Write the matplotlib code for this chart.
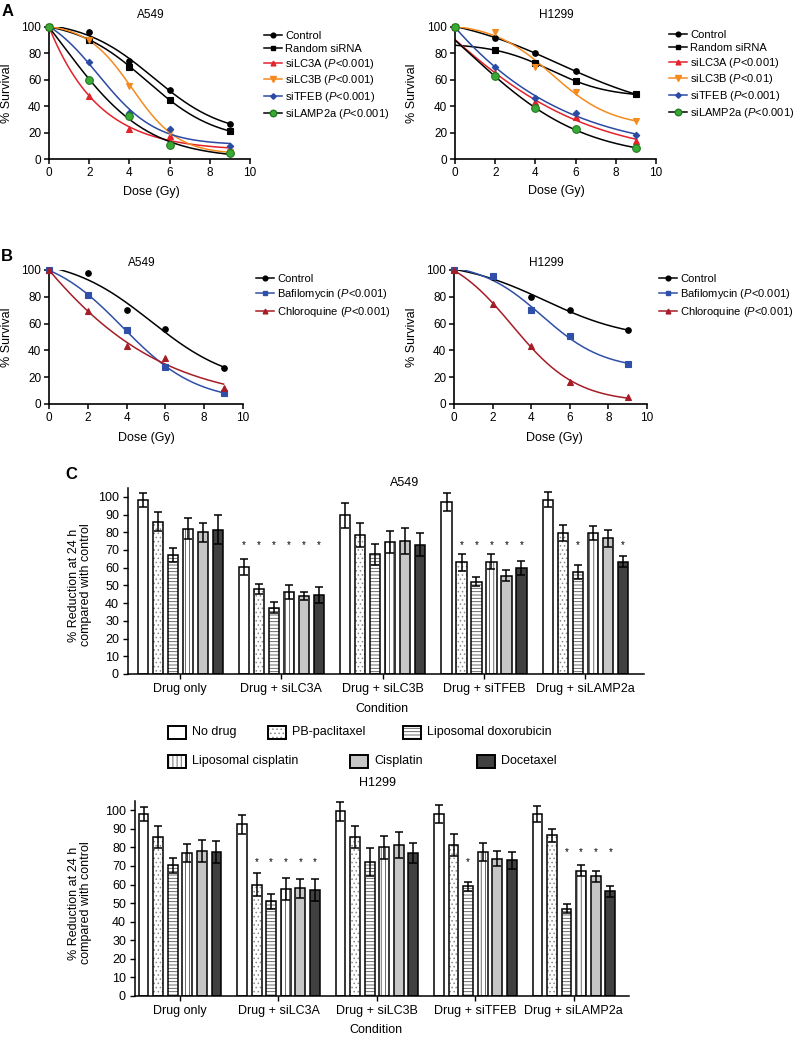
import numpy as np
import matplotlib
matplotlib.use("Agg")
import matplotlib.pyplot as plt
from matplotlib.lines import Line2D
from matplotlib.patches import Rectangle

plt.rcParams["font.family"] = ["Liberation Sans", "DejaVu Sans"]
plt.rcParams["mathtext.fontset"] = "custom"
plt.rcParams["mathtext.rm"] = "Liberation Sans"
plt.rcParams["mathtext.it"] = "Liberation Sans:italic"
plt.rcParams["hatch.linewidth"] = 0.6

# ---------------- data ----------------
DOSES = [0, 2, 4, 6, 9]

# panel A, clonogenic survival (%)
A_LABELS = ["Control", "Random siRNA", "siLC3A", "siLC3B", "siTFEB", "siLAMP2a"]
A549_PVALS = [None, None, "<0.001", "<0.001", "<0.001", "<0.001"]
H1299_PVALS = [None, None, "<0.001", "<0.01", "<0.001", "<0.001"]

A549_CONTROL = [100, 96, 74, 52.5, 26.5]
A549_RANDOM = [100, 90.5, 70, 45, 21]
A549_SILC3A = [100, 48, 22.5, 17.5, 6.5]
A549_SILC3B = [100, 90.5, 55.5, 20.5, 5]
A549_SITFEB = [100, 73.5, 35, 22.5, 10]
A549_SILAMP2A = [100, 59.5, 32.5, 10.5, 4.5]

H1299_CONTROL = [100, 92, 80, 66.5, 49]
H1299_RANDOM = [100, 82.5, 72.5, 59, 49]
H1299_SILC3A = [100, 65.5, 43, 32, 13.5]
H1299_SILC3B = [100, 96, 70, 51, 29]
H1299_SITFEB = [100, 70, 46, 35, 18]
H1299_SILAMP2A = [100, 62.5, 38.5, 22.5, 8]

# panel B
B_LABELS = ["Control", "Bafilomycin", "Chloroquine"]
B_PVALS = [None, "<0.001", "<0.001"]
B_A549_CONTROL = [100, 98, 70.5, 56, 27]
B_A549_BAFILO = [100, 81, 55.5, 27.5, 8.5]
B_A549_CHLORO = [100, 69.5, 43.5, 34.5, 12]
B_H1299_CONTROL = [100, 95, 80, 70, 55]
B_H1299_BAFILO = [100, 95.5, 70, 50.5, 30]
B_H1299_CHLORO = [100, 74.5, 43.5, 16.5, 5]

# panel C, % reduction at 24 h (rows = drug, cols = condition)
CONDITIONS = ["Drug only", "Drug + siLC3A", "Drug + siLC3B", "Drug + siTFEB", "Drug + siLAMP2a"]
DRUGS = ["No drug", "PB-paclitaxel", "Liposomal doxorubicin",
         "Liposomal cisplatin", "Cisplatin", "Docetaxel"]

C_A549_MEAN = [
    [98, 60.5, 89.5, 97, 98.5],
    [86, 48, 78.5, 63, 79.5],
    [67, 37.5, 67.5, 52, 57.5],
    [82, 46.5, 74.5, 63.5, 79.5],
    [80, 44, 75, 55.5, 76.5],
    [81.5, 44.5, 73, 60, 63.5],
]
C_A549_ERR = [
    [4, 4.5, 7, 5, 4.5],
    [5.5, 3, 7, 5, 4.5],
    [4, 3, 6, 2.5, 4],
    [6, 4, 6, 4.5, 4],
    [5.5, 2.5, 7.5, 3, 5],
    [8, 4.5, 6.5, 4, 3],
]
C_A549_SIG = [
    [0, 1, 0, 0, 0],
    [0, 1, 0, 1, 0],
    [0, 1, 0, 1, 1],
    [0, 1, 0, 1, 0],
    [0, 1, 0, 1, 0],
    [0, 1, 0, 1, 1],
]

C_H1299_MEAN = [
    [98, 92.5, 99.5, 98, 98],
    [85.5, 60, 85.5, 81.5, 86.5],
    [70.5, 51, 72, 59, 47],
    [77, 57.5, 80, 77.5, 67.5],
    [78, 58, 81.5, 74, 64.5],
    [77.5, 57, 77, 73, 56.5],
]
C_H1299_ERR = [
    [4, 5, 5, 5, 4.5],
    [6, 6, 6, 6, 3.5],
    [4, 4, 7.5, 2.5, 2.5],
    [5, 6, 6, 5, 3],
    [6, 5, 7, 4, 3],
    [6, 6, 5.5, 4.5, 3],
]
C_H1299_SIG = [
    [0, 0, 0, 0, 0],
    [0, 1, 0, 0, 0],
    [0, 1, 0, 1, 1],
    [0, 1, 0, 0, 1],
    [0, 1, 0, 0, 1],
    [0, 1, 0, 0, 1],
]

# ---------------- styles / layout ----------------
W, H = 796, 1038
fig = plt.figure(figsize=(W / 100, H / 100), dpi=100)


def fx(x):
    return x / W


def fy(y):
    return 1 - y / H


def px_rect(x0, y0, x1, y1):
    return [x0 / W, 1 - y1 / H, (x1 - x0) / W, (y1 - y0) / H]


A_STYLE = [
    dict(line="black", marker="o", mfc="black", mec="black", ms=4),
    dict(line="black", marker="s", mfc="black", mec="black", ms=4.2),
    dict(line="#e3222b", marker="^", mfc="#e3222b", mec="#e3222b", ms=4),
    dict(line="#f58a1f", marker="v", mfc="#f58a1f", mec="#f58a1f", ms=4.5),
    dict(line="#2a4aa3", marker="D", mfc="#2a4aa3", mec="#2a4aa3", ms=3.3),
    dict(line="black", marker="o", mfc="#3aaa35", mec="#1f7a22", ms=5.5),
]
B_STYLE = [
    dict(line="black", marker="o", mfc="black", mec="black", ms=4),
    dict(line="#2f4fa8", marker="s", mfc="#2f4fa8", mec="#2f4fa8", ms=4),
    dict(line="#a51d26", marker="^", mfc="#a51d26", mec="#a51d26", ms=4),
]

K_GRID = np.linspace(0.05, 3.0, 120)
X0_GRID = np.linspace(-8, 20, 400)


def fit_sigmoid(x, y, start=0):
    # least-squares fit of y = b + c / (1 + exp(k (x - x0)))
    # when the 0 Gy point is left out, the curve at 0 Gy is kept <= 100
    x = np.asarray(x, float)
    y = np.asarray(y, float)
    xs = np.linspace(x.min(), x.max(), 200)
    x, y = x[start:], y[start:]
    kk, xx = np.meshgrid(K_GRID, X0_GRID, indexing="ij")
    s = 1 / (1 + np.exp(kk[..., None] * (x - xx[..., None])))
    sm = s.mean(-1, keepdims=True)
    ym = y.mean()
    var = ((s - sm) ** 2).sum(-1)
    cov = ((s - sm) * (y - ym)).sum(-1)
    c = cov / np.where(var > 1e-12, var, np.nan)
    b = ym - c * sm[..., 0]
    neg = b < 0
    c0 = (s * y).sum(-1) / (s * s).sum(-1)
    c = np.where(neg, c0, c)
    b = np.where(neg, 0.0, b)
    sse = ((b[..., None] + c[..., None] * s - y) ** 2).sum(-1)
    if start > 0:
        v0 = b + c / (1 + np.exp(-kk * xx))
        sse = np.where(v0 > 100.5, np.inf, sse)
    sse = np.nan_to_num(sse, nan=np.inf)
    i = np.unravel_index(np.argmin(sse), sse.shape)
    return xs, b[i] + c[i] / (1 + np.exp(kk[i] * (xs - xx[i])))


def label_with_p(name, p):
    return name if p is None else f"{name} ($P$<{p[1:]})"


def survival_panel(rect, series, labels, pvals, styles, legend_xy, pitch, fit_start=0):
    ax = fig.add_axes(rect)
    for ys, st in zip(series, styles):
        xs, fit = fit_sigmoid(DOSES, ys, fit_start)
        ax.plot(xs, fit, color=st["line"], lw=1.1, zorder=2)
    for ys, st in zip(series, styles):
        ax.plot(DOSES, ys, ls="none", marker=st["marker"], mfc=st["mfc"],
                mec=st["mec"], ms=st["ms"], mew=0.8, clip_on=False, zorder=3)
    ax.set_xlim(0, 10)
    ax.set_ylim(0, 100)
    ax.set_xticks(range(0, 11, 2))
    ax.set_yticks(range(0, 101, 20))
    for sp in ("top", "right"):
        ax.spines[sp].set_visible(False)
    for sp in ("left", "bottom"):
        ax.spines[sp].set_linewidth(1.2)
    ax.tick_params(direction="out", length=3.5, width=1.1, labelsize=8.5, pad=2)
    handles = [Line2D([], [], color=st["line"], lw=1.1, marker=st["marker"],
                      mfc=st["mfc"], mec=st["mec"], ms=st["ms"] * 0.85)
               for st in styles]
    texts = [label_with_p(n, p) for n, p in zip(labels, pvals)]
    ax.legend(handles, texts, loc="upper left",
              bbox_to_anchor=(fx(legend_xy[0]), fy(legend_xy[1])),
              bbox_transform=fig.transFigure, frameon=False, fontsize=8,
              handlelength=1.6, handletextpad=0.3, labelspacing=pitch,
              borderpad=0, borderaxespad=0)
    return ax


# Panel A
survival_panel(px_rect(49, 27, 250, 159),
               [A549_CONTROL, A549_RANDOM, A549_SILC3A, A549_SILC3B, A549_SITFEB, A549_SILAMP2A],
               A_LABELS, A549_PVALS, A_STYLE, (264, 31), 0.25)
survival_panel(px_rect(455, 27, 656, 159),
               [H1299_CONTROL, H1299_RANDOM, H1299_SILC3A, H1299_SILC3B, H1299_SITFEB, H1299_SILAMP2A],
               A_LABELS, H1299_PVALS, A_STYLE, (669, 30), 0.25, fit_start=1)
# Panel B
survival_panel(px_rect(49, 270, 243, 404),
               [B_A549_CONTROL, B_A549_BAFILO, B_A549_CHLORO],
               B_LABELS, B_PVALS, B_STYLE, (256, 274), 0.3)
survival_panel(px_rect(454, 270, 647, 404),
               [B_H1299_CONTROL, B_H1299_BAFILO, B_H1299_CHLORO],
               B_LABELS, B_PVALS, B_STYLE, (659, 274), 0.3)

for (x, y, t) in [(151, 15, "A549"), (556, 15, "H1299"), (142, 263, "A549"), (546, 263, "H1299")]:
    fig.text(fx(x), fy(y), t, ha="center", va="center", fontsize=8.5)
for (x, y) in [(151, 192), (556, 191), (146, 438), (554, 438)]:
    fig.text(fx(x), fy(y), "Dose (Gy)", ha="center", va="center", fontsize=9)
for (x, y) in [(7, 93), (412, 93), (7, 337), (412, 337)]:
    fig.text(fx(x), fy(y), "% Survival", ha="center", va="center", rotation=90, fontsize=9)

# Panel C
FACE = ["white", "white", "white", "white", "#c6c6c6", "#404040"]
HATCH = ["", "....", "-----", "||||", "", ""]
HATCH_COL = ["white", "#8a8a8a", "#555555", "#555555", "#c6c6c6", "#404040"]
BAR_W = 0.1
STEP = 0.148


def bar_panel(rect, xlim, means, errs, sig, star_levels):
    ax = fig.add_axes(rect)
    x = np.arange(len(CONDITIONS))
    for i in range(len(DRUGS)):
        pos = x + (i - 2.5) * STEP
        ax.bar(pos, means[i], width=BAR_W, color=FACE[i], edgecolor=HATCH_COL[i],
               hatch=HATCH[i], linewidth=0, zorder=2)
        ax.bar(pos, means[i], width=BAR_W, color="none", edgecolor="black",
               linewidth=1.1, zorder=3)
        ax.errorbar(pos, means[i], yerr=errs[i], fmt="none", ecolor="black",
                    elinewidth=1.1, capsize=2.6, capthick=1.1, zorder=4)
        for j, s in enumerate(sig[i]):
            if s:
                ax.text(pos[j], star_levels[j], "*", ha="center", va="center", fontsize=7)
    ax.set_xlim(*xlim)
    ax.set_ylim(0, 105)
    ax.set_yticks(range(0, 101, 10))
    ax.set_xticks(x)
    ax.set_xticklabels(CONDITIONS)
    for sp in ("top", "right"):
        ax.spines[sp].set_visible(False)
    for sp in ("left", "bottom"):
        ax.spines[sp].set_linewidth(1.1)
    ax.tick_params(direction="out", length=3.5, width=1.0, labelsize=9, pad=3)
    return ax


bar_panel(px_rect(128, 488, 644, 674), (-0.515, 4.58),
          C_A549_MEAN, C_A549_ERR, C_A549_SIG, [72.5, 72.5, 72.5, 72.5, 72.5])
bar_panel(px_rect(135, 801, 629, 996), (-0.457, 4.56),
          C_H1299_MEAN, C_H1299_ERR, C_H1299_SIG, [72, 72, 72, 72, 77.5])

fig.text(fx(405), fy(483), "A549", ha="center", va="center", fontsize=9)
fig.text(fx(377), fy(783), "H1299", ha="center", va="center", fontsize=9)
fig.text(fx(382), fy(709), "Condition", ha="center", va="center", fontsize=9)
fig.text(fx(376), fy(1030), "Condition", ha="center", va="center", fontsize=9)
for y in (585, 903):
    fig.text(fx(80), fy(y), "% Reduction at 24 h\ncompared with control", ha="center",
             va="center", rotation=90, fontsize=9, linespacing=1.1)

# legend of panel C
LEG_POS = [(168, 732), (268, 732), (403, 732), (168, 761), (350, 761), (477, 761)]
for i, (lx, ly) in enumerate(LEG_POS):
    box = (fx(lx), fy(ly + 6.5))
    fig.add_artist(Rectangle(box, 18 / W, 13 / H, transform=fig.transFigure,
                             facecolor=FACE[i], edgecolor=HATCH_COL[i], hatch=HATCH[i], linewidth=0))
    fig.add_artist(Rectangle(box, 18 / W, 13 / H, transform=fig.transFigure,
                             facecolor="none", edgecolor="black", linewidth=1.4))
    fig.text(fx(lx + 24), fy(ly), DRUGS[i], ha="left", va="center", fontsize=9)

# panel letters
for (x, y, t) in [(2, 4, "A"), (1, 249, "B"), (65, 467, "C")]:
    fig.text(fx(x), fy(y), t, ha="left", va="top", fontsize=12, fontweight="bold")

fig.savefig("out.png", dpi=100)
